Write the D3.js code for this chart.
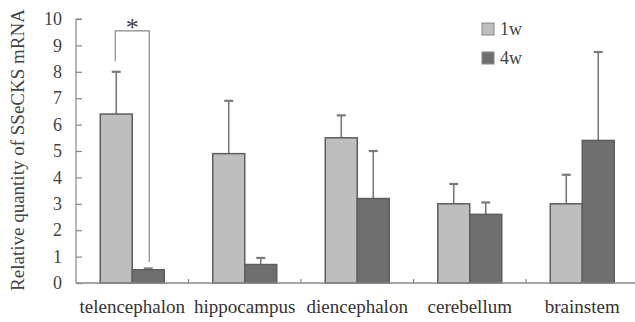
<!DOCTYPE html>
<html lang="en">
<head>
<meta charset="utf-8">
<title>SSeCKS mRNA</title>
<script src="https://cdn.jsdelivr.net/npm/d3@7"></script>
<style>
  body { margin: 0; background: #fff; }
  svg text { font-family: "Liberation Serif" !important; }
</style>
</head>
<body>
<script>
// data
var regions = ["telencephalon", "hippocampus", "diencephalon", "cerebellum", "brainstem"];
var series = ["1w", "4w"];
var mean1w = [6.4, 4.9, 5.5, 3.0, 3.0];
var err1w  = [8.0, 6.9, 6.35, 3.75, 4.1];
var mean4w = [0.5, 0.7, 3.2, 2.6, 5.4];
var err4w  = [0.55, 0.95, 5.0, 3.05, 8.75];
var yTicks = [0, 1, 2, 3, 4, 5, 6, 7, 8, 9, 10];

var w = 635, h = 322;
var colors = { "1w": "#bebebe", "4w": "#6f6f6f" };

var svg = d3.select("body").append("svg")
  .attr("width", w)
  .attr("height", h);

var x0 = d3.scaleBand().domain(regions).range([76, 76 + 5 * 112.5]);
var x1 = d3.scaleBand().domain(series).range([0, x0.bandwidth()]).paddingOuter(0.758).paddingInner(0);
var y = d3.scaleLinear().domain([0, 10]).range([283, 19]);

// bars + error bars
var rows = [];
regions.forEach(function(r, i) {
  rows.push({ region: r, s: "1w", v: mean1w[i], e: err1w[i] });
  rows.push({ region: r, s: "4w", v: mean4w[i], e: err4w[i] });
});

var errs = svg.append("g").attr("stroke", "#7a7a7a").attr("stroke-width", 1.6);
rows.forEach(function(d) {
  var cx = x0(d.region) + x1(d.s) + x1.bandwidth() / 2;
  errs.append("line").attr("x1", cx).attr("x2", cx).attr("y1", y(d.v)).attr("y2", y(d.e));
  errs.append("line").attr("x1", cx - 4.5).attr("x2", cx + 4.5).attr("y1", y(d.e)).attr("y2", y(d.e)).attr("stroke-width", 2.2);
});

svg.append("g").selectAll("rect")
  .data(rows)
  .enter()
  .append("rect")
  .attr("x", function(d) { return x0(d.region) + x1(d.s); })
  .attr("y", function(d) { return y(d.v); })
  .attr("width", x1.bandwidth())
  .attr("height", function(d) { return y(0) - y(d.v); })
  .attr("fill", function(d) { return colors[d.s]; })
  .attr("stroke", "#5e5e5e")
  .attr("stroke-width", 1.5);

// y axis (ticks pointing inward)
var yAxis = svg.append("g")
  .attr("transform", "translate(76,0)")
  .call(d3.axisRight(y).tickValues(yTicks).tickSize(6).tickFormat(d3.format("d")));
yAxis.select(".domain").attr("stroke", "#888").attr("stroke-width", 1.2).attr("d", "M0," + y(10) + "H6M0," + y(10) + "V" + y(0));
yAxis.selectAll(".tick line").attr("stroke", "#888").attr("stroke-width", 1.2);
yAxis.selectAll(".tick text")
  .attr("x", -14)
  .attr("text-anchor", "end")
  .attr("font-size", 18)
  .attr("fill", "#444");

// x axis
svg.append("line")
  .attr("x1", 76).attr("x2", w)
  .attr("y1", y(0)).attr("y2", y(0))
  .attr("stroke", "#888").attr("stroke-width", 1.4);
svg.append("g").selectAll("line")
  .data(regions.slice(1))
  .enter()
  .append("line")
  .attr("x1", function(d) { return x0(d); })
  .attr("x2", function(d) { return x0(d); })
  .attr("y1", y(0)).attr("y2", y(0) - 4)
  .attr("stroke", "#888").attr("stroke-width", 1.2);
svg.append("g").selectAll("text")
  .data(regions)
  .enter()
  .append("text")
  .attr("x", function(d) { return x0(d) + x0.bandwidth() / 2; })
  .attr("y", 313)
  .attr("text-anchor", "middle")
  .attr("font-size", 19)
  .attr("fill", "#333")
  .text(function(d) { return d; });

// y label
svg.append("text")
  .attr("transform", "translate(24," + 150 + ") rotate(-90)")
  .attr("text-anchor", "middle")
  .attr("font-size", 19)
  .attr("fill", "#444")
  .text("Relative quantity of SSeCKS mRNA");

// significance bracket
var bx1 = x0(regions[0]) + x1("1w") + x1.bandwidth() / 2 - 1;
var bx2 = x0(regions[0]) + x1("4w") + x1.bandwidth() / 2 + 1;
svg.append("path")
  .attr("d", "M" + bx1 + "," + y(8.4) + "V" + y(9.55) + "H" + bx2 + "V" + y(0.8))
  .attr("fill", "none")
  .attr("stroke", "#888")
  .attr("stroke-width", 1.2);
svg.append("text")
  .attr("x", (bx1 + bx2) / 2)
  .attr("y", 36)
  .attr("text-anchor", "middle")
  .attr("font-size", 26)
  .attr("fill", "#444")
  .text("*");

// legend
var legend = svg.append("g").attr("transform", "translate(482,23)");
series.forEach(function(s, i) {
  var g = legend.append("g").attr("transform", "translate(0," + (i * 29) + ")");
  g.append("rect").attr("width", 12).attr("height", 12)
    .attr("fill", colors[s]).attr("stroke", "#888").attr("stroke-width", 1);
  g.append("text").attr("x", 18).attr("y", 12).attr("font-size", 18).attr("fill", "#444").text(s);
});
</script>
</body>
</html>
